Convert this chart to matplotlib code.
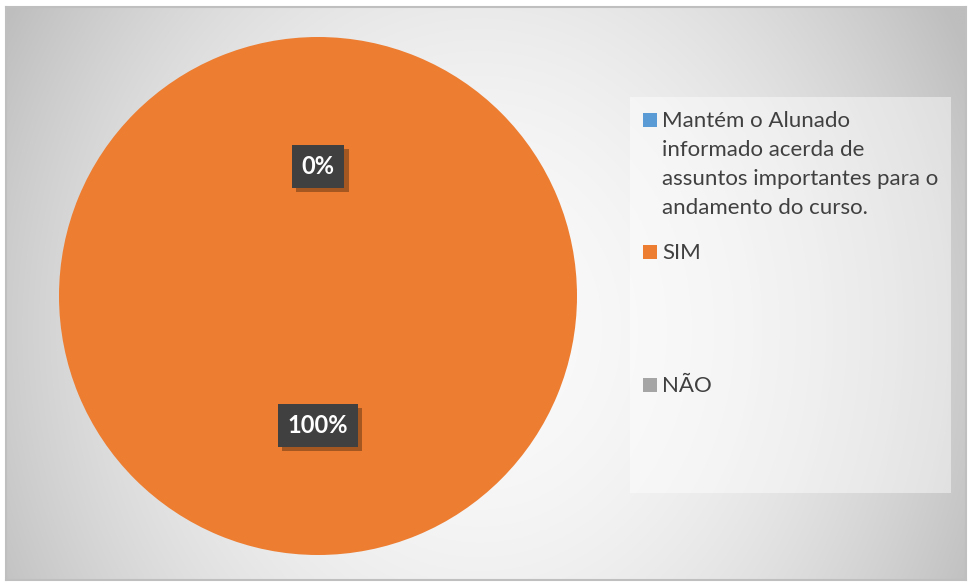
import numpy as np
import matplotlib
matplotlib.use("Agg")
import matplotlib.pyplot as plt
from matplotlib.patches import Rectangle
import matplotlib.patheffects as pe

# ---- data ----
categories = ["Mantém o Alunado\ninformado acerda de\nassuntos importantes para o\nandamento do curso.",
              "SIM", "NÃO"]
values = [0, 100, 0]
show_label = [False, True, True]
colors = ["#5B9BD5", "#ED7D31", "#A5A5A5"]

W, H = 970, 583
fig = plt.figure(figsize=(W / 100, H / 100), dpi=100)
fig.patch.set_facecolor("white")

def fx(px):
    return px / W

def fy(py):
    return 1 - py / H

FONT = ["Lato", "DejaVu Sans"]

# ---- chart-area background with gradient ----
x0, y0, x1, y1 = 6, 7, 966, 580
bg = fig.add_axes([fx(x0), fy(y1), (x1 - x0) / W, (y1 - y0) / H])
gx = np.linspace(x0, x1, 300)
gy = np.linspace(y0, y1, 200)
GX, GY = np.meshgrid(gx, gy)
cx, cy = 480, 330
shade = 250 - 44 * ((GX - cx) / 470) ** 2 - 12 * ((GY - cy) / 280) ** 2
shade = np.clip(shade, 190, 252) / 255.0
bg.imshow(np.dstack([shade, shade, shade]), extent=[0, 1, 0, 1], aspect="auto",
          origin="upper", interpolation="bilinear")
bg.set_xlim(0, 1)
bg.set_ylim(0, 1)
bg.set_xticks([])
bg.set_yticks([])
for s in bg.spines.values():
    s.set_color("#bfbfbf")
    s.set_linewidth(1.5)

# ---- pie ----
pcx, pcy, r = 318, 296, 259
ax = fig.add_axes([fx(pcx - r), fy(pcy + r), 2 * r / W, 2 * r / H])
ax.set_facecolor("none")
wedges, _ = ax.pie(values, colors=colors, startangle=90, counterclock=False,
                   radius=1, wedgeprops=dict(linewidth=0))
ax.set_xlim(-1, 1)
ax.set_ylim(-1, 1)
ax.set_aspect("equal")
ax.axis("off")

total = sum(values)
for w, v, show in zip(wedges, values, show_label):
    if not show:
        continue
    ang = np.deg2rad((w.theta1 + w.theta2) / 2)
    d = 0.5
    t = ax.text(d * np.cos(ang), d * np.sin(ang), f"{v / total * 100:.0f}%",
                ha="center", va="center", color="white", fontsize=17,
                fontweight="bold", family=FONT,
                bbox=dict(boxstyle="square,pad=0.42", facecolor="#404040",
                          edgecolor="none", linewidth=0))
    t.get_bbox_patch().set_path_effects([
        pe.SimplePatchShadow(offset=(3, -3), alpha=0.3, shadow_rgbFace="#000000"),
        pe.Normal()])

# ---- legend (Excel-like layout) ----
fig.patches.append(Rectangle((fx(630), fy(493)), (951 - 630) / W, (493 - 97) / H,
                             transform=fig.transFigure, facecolor="white",
                             alpha=0.45, edgecolor="none", zorder=1))
entry_top = [113, 245, 378]
for lab, col, top in zip(categories, colors, entry_top):
    fig.patches.append(Rectangle((fx(643), fy(top + 14)), 14 / W, 14 / H,
                                 transform=fig.transFigure, facecolor=col,
                                 edgecolor="none", zorder=3))
    for i, ln in enumerate(lab.split("\n")):
        fig.text(fx(662), fy(top + 14 + 29 * i), ln, ha="left", va="baseline",
                 fontsize=16, color="#404040", family=FONT, zorder=3)

fig.savefig("out.png", dpi=100)
